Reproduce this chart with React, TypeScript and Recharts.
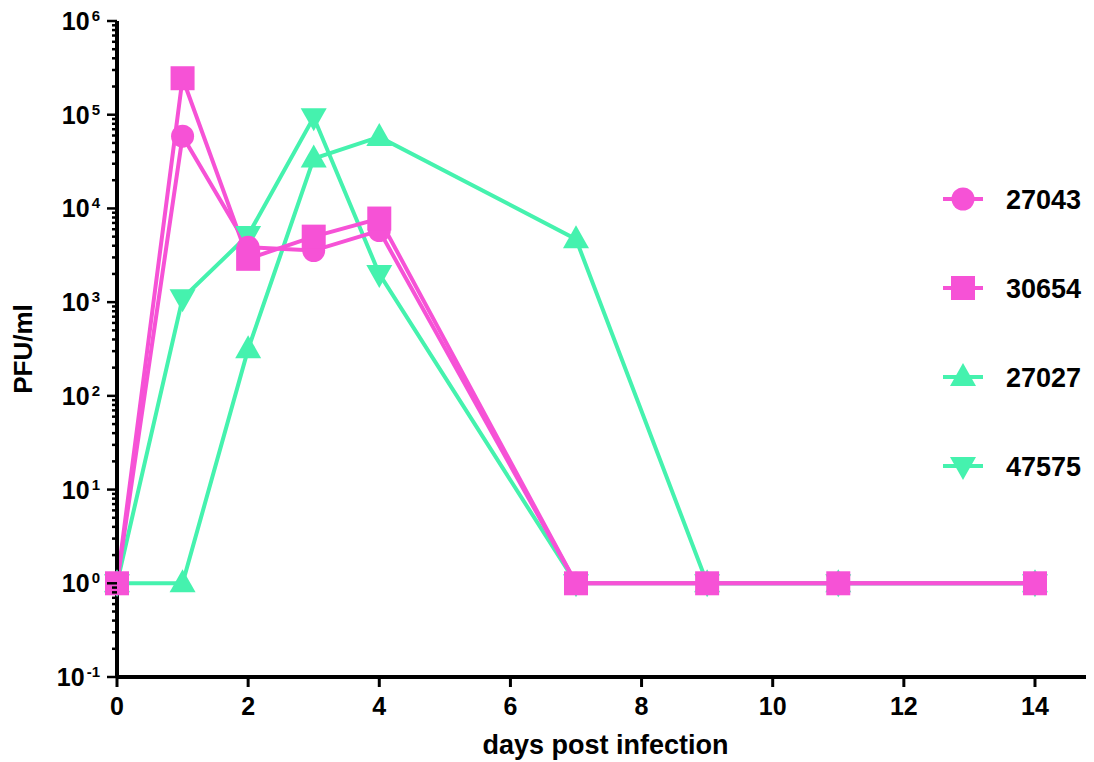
import React from "react";
import { LineChart, Line, XAxis, YAxis } from "recharts";

const days = [0, 1, 2, 3, 4, 7, 9, 11, 14];
const s27043 = [1, 59000, 3850, 3550, 5800, 1, 1, 1, 1];
const s30654 = [1, 245000, 2900, 5000, 7800, 1, 1, 1, 1];
const s27027 = [1, 1, 315, 34000, 58000, 4700, 1, 1, 1];
const s47575 = [1, 1100, 5200, 94000, 2000, 1, 1, 1, 1];

const xTicks = [0, 2, 4, 6, 8, 10, 12, 14];
const yMajor = [0.1, 1, 10, 100, 1000, 10000, 100000, 1000000];
const minorFactors = [2, 3, 4, 5, 6, 7, 8, 9];

const PINK = "#F652D6";
const GREEN = "#45F2AE";
const FONT = '"Liberation Sans", Arial, sans-serif';

const yTicks: number[] = [];
yMajor.forEach((m, i) => {
  yTicks.push(m);
  if (i < yMajor.length - 1) minorFactors.forEach((f) => yTicks.push(m * f));
});

const data = days.map((d, i) => ({
  day: d,
  s27043: s27043[i],
  s30654: s30654[i],
  s27027: s27027[i],
  s47575: s47575[i],
}));

const series = [
  { key: "s27027", name: "27027", color: GREEN, shape: "up" },
  { key: "s47575", name: "47575", color: GREEN, shape: "down" },
  { key: "s27043", name: "27043", color: PINK, shape: "circle" },
  { key: "s30654", name: "30654", color: PINK, shape: "square" },
];
const legendOrder = ["s27043", "s30654", "s27027", "s47575"];

const Marker = ({ shape, cx, cy, color }: any) => {
  if (shape === "circle") return <circle cx={cx} cy={cy} r={11.5} fill={color} />;
  if (shape === "square")
    return <rect x={cx - 12} y={cy - 12} width={24} height={24} fill={color} />;
  if (shape === "up")
    return (
      <polygon
        points={`${cx},${cy - 14} ${cx - 13},${cy + 9} ${cx + 13},${cy + 9}`}
        fill={color}
      />
    );
  return (
    <polygon
      points={`${cx},${cy + 14} ${cx - 13},${cy - 9} ${cx + 13},${cy - 9}`}
      fill={color}
    />
  );
};

const YTick = ({ x, y, payload }: any) => {
  const v = payload.value;
  const lg = Math.log10(v);
  const major = Math.abs(lg - Math.round(lg)) < 1e-6;
  const len = major ? 10 : 5;
  return (
    <g>
      <line x1={x} x2={x - len} y1={y} y2={y} stroke="#000" strokeWidth={2.5} />
      {major && (
        <text
          x={x - 17}
          y={y + 9}
          textAnchor="end"
          fontFamily={FONT}
          fontWeight="bold"
          fontSize={25}
          fill="#000"
        >
          <tspan>10</tspan>
          <tspan dy={-9} dx={2} fontSize={15}>
            {Math.round(lg)}
          </tspan>
        </text>
      )}
    </g>
  );
};

const XTick = ({ x, y, payload }: any) => (
  <text
    x={x}
    y={y + 20}
    textAnchor="middle"
    fontFamily={FONT}
    fontWeight="bold"
    fontSize={25}
    fill="#000"
  >
    {payload.value}
  </text>
);

export default function App() {
  return (
    <div style={{ position: "relative", top: -8, width: 1086, height: 762 }}>
      <LineChart
        width={1086}
        height={762}
        data={data}
        margin={{ top: 21, right: 0, bottom: 0, left: 0 }}
      >
        <XAxis
          dataKey="day"
          type="number"
          domain={[0, 14.9]}
          ticks={xTicks}
          interval={0}
          height={85}
          axisLine={{ stroke: "#000", strokeWidth: 4 }}
          tickLine={{ stroke: "#000", strokeWidth: 3 }}
          tickSize={10}
          tickMargin={8}
          tick={<XTick />}
        />
        <YAxis
          type="number"
          scale="log"
          domain={[0.1, 1000000]}
          allowDataOverflow
          ticks={yTicks}
          interval={0}
          width={109}
          axisLine={{ stroke: "#000", strokeWidth: 4 }}
          tickLine={false}
          tickSize={0}
          tickMargin={0}
          tick={<YTick />}
          label={{
            value: "PFU/ml",
            angle: -90,
            position: "center",
            dx: -40,
            fill: "#000",
            fontSize: 26,
            fontWeight: "bold",
            fontFamily: FONT,
          }}
        />
        {series.map((s) => (
          <Line
            key={s.key}
            dataKey={s.key}
            stroke={s.color}
            strokeWidth={4}
            isAnimationActive={false}
            dot={(p: any) => (
              <Marker key={p.index} shape={s.shape} cx={p.cx} cy={p.cy} color={s.color} />
            )}
            activeDot={false}
          />
        ))}
      </LineChart>
      <svg
        width={1086}
        height={762}
        style={{ position: "absolute", left: 0, top: 0, pointerEvents: "none" }}
      >
        <text
          x={597.5}
          y={754}
          textAnchor="middle"
          fontFamily={FONT}
          fontWeight="bold"
          fontSize={27}
          fill="#000"
        >
          days post infection
        </text>
        {legendOrder.map((k, i) => {
          const s = series.find((q) => q.key === k)!;
          const cy = 199 + i * 89;
          return (
            <g key={k}>
              <line x1={935} x2={975} y1={cy} y2={cy} stroke={s.color} strokeWidth={4} />
              <Marker shape={s.shape} cx={955} cy={cy} color={s.color} />
              <text
                x={998}
                y={cy + 10}
                fontFamily={FONT}
                fontWeight="bold"
                fontSize={27}
                fill="#000"
              >
                {s.name}
              </text>
            </g>
          );
        })}
      </svg>
    </div>
  );
}
